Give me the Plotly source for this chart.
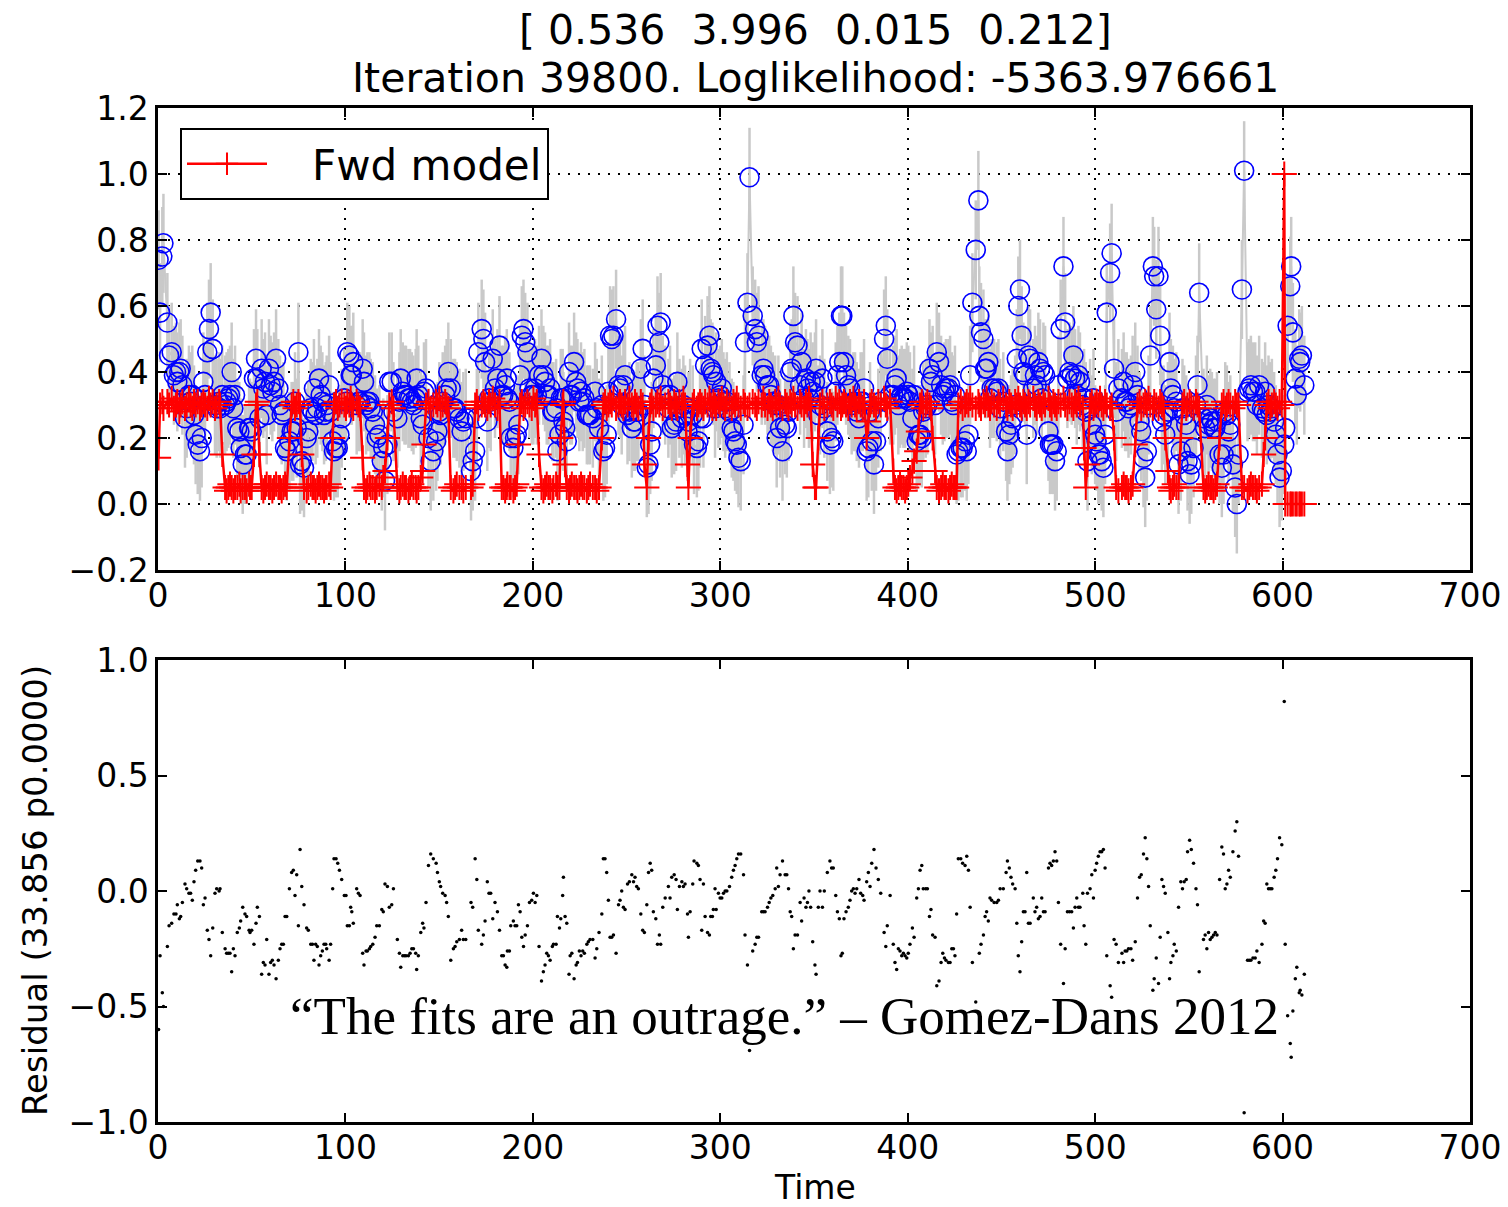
import plotly.graph_objects as go

# ---------------- data ----------------
obs_time = [
    0.3, 1.1, 2.3, 2.9, 5.0, 5.9, 7.3, 8.5, 9.6, 10.3,
    11.4, 12.1, 13.0, 14.4, 15.3, 16.5, 17.4, 18.3, 19.2, 20.1,
    21.2, 22.4, 23.3, 24.2, 25.1, 26.3, 27.2, 28.1, 29.2, 30.4,
    31.3, 32.6, 33.1, 34.3, 35.8, 36.6, 37.5, 38.4, 39.3, 40.2,
    41.1, 42.3, 43.4, 44.1, 45.2, 46.4, 47.3, 48.6, 49.1, 50.0,
    51.2, 52.3, 53.0, 54.1, 55.3, 56.2, 57.1, 58.0, 59.2, 60.1,
    61.0, 61.9, 63.0, 64.2, 65.1, 66.0, 66.9, 67.8, 68.7, 70.1,
    71.3, 72.2, 73.1, 74.0, 74.9, 75.8, 76.7, 77.9, 79.3, 80.2,
    81.5, 82.4, 83.2, 84.1, 85.0, 85.9, 86.8, 87.7, 88.6, 89.5,
    90.0, 91.3, 92.1, 93.2, 93.9, 95.0, 95.9, 96.8, 98.0, 99.4,
    100.3, 101.0, 102.1, 102.8, 103.4, 104.2, 106.0, 106.9, 107.8, 109.2,
    109.9, 111.0, 111.7, 112.8, 113.5, 114.6, 115.8, 116.7, 118.1, 119.4,
    120.2, 121.1, 122.4, 123.4, 124.7, 125.6, 127.7, 128.8, 129.5, 130.6,
    131.5, 132.3, 133.6, 134.5, 135.4, 136.3, 137.5, 138.0, 138.9, 140.2,
    141.2, 141.9, 143.0, 144.3, 145.5, 146.9, 148.4, 149.1, 150.1, 150.8,
    151.9, 153.2, 154.0, 154.9, 156.2, 157.6, 158.5, 159.4, 160.8, 162.0,
    162.9, 164.2, 167.0, 167.9, 169.2, 170.1, 170.9, 172.7, 173.6, 174.5,
    175.7, 176.6, 177.5, 178.6, 179.8, 181.1, 182.2, 183.4, 184.3, 185.2,
    186.1, 186.4, 187.5, 188.2, 189.6, 190.5, 191.4, 192.3, 193.2, 194.1,
    195.0, 195.9, 197.1, 198.2, 199.4, 200.3, 201.2, 202.1, 203.3, 204.6,
    205.6, 206.5, 207.4, 208.3, 209.2, 210.4, 211.0, 212.4, 213.1, 214.2,
    214.9, 215.9, 216.3, 217.2, 218.1, 219.3, 219.9, 220.8, 222.0, 223.1,
    223.8, 224.8, 225.7, 226.6, 227.5, 228.8, 229.6, 230.5, 232.0, 233.2,
    234.1, 235.3, 236.8, 237.6, 238.5, 239.4, 240.3, 241.2, 242.1, 243.0,
    244.4, 245.7, 246.5, 247.4, 248.3, 249.2, 250.5, 251.5, 252.8, 253.7,
    254.5, 255.4, 256.3, 257.6, 258.6, 259.5, 260.8, 261.7, 262.6, 263.4,
    264.3, 265.6, 266.5, 267.5, 268.2, 269.3, 270.6, 272.3, 273.2, 274.1,
    275.4, 276.4, 277.1, 278.2, 279.5, 280.3, 281.2, 282.5, 283.0, 283.9,
    285.3, 286.0, 287.5, 288.3, 289.2, 290.1, 291.0, 291.9, 293.2, 294.2,
    294.9, 295.8, 296.3, 297.2, 297.8, 299.0, 299.9, 300.8, 301.7, 302.6,
    303.5, 304.9, 306.1, 307.0, 307.9, 308.8, 309.7, 310.9, 312.4, 313.2,
    314.5, 315.6, 317.3, 318.6, 319.5, 320.4, 322.1, 323.0, 323.9, 325.2,
    326.1, 327.0, 328.0, 329.3, 330.1, 331.0, 331.9, 333.2, 334.6, 335.5,
    336.4, 337.3, 338.1, 339.0, 339.9, 341.2, 342.6, 343.4, 344.7, 345.7,
    346.5, 347.3, 348.2, 349.3, 350.5, 351.1, 352.3, 353.2, 354.5, 355.5,
    357.1, 358.5, 359.4, 360.3, 361.6, 362.5, 363.5, 364.4, 365.1, 366.0,
    367.1, 368.3, 369.2, 370.1, 371.0, 371.9, 372.8, 374.0, 374.9, 376.0,
    376.7, 378.1, 379.0, 379.9, 380.8, 382.0, 383.1, 384.3, 385.6, 387.4,
    388.3, 389.1, 390.6, 392.3, 393.2, 394.1, 395.0, 395.9, 396.8, 397.7,
    398.6, 399.5, 400.3, 401.2, 402.5, 403.4, 404.8, 405.7, 406.6, 407.5,
    408.3, 409.6, 410.5, 411.6, 412.4, 413.3, 414.6, 415.5, 416.7, 417.8,
    418.7, 419.6, 420.4, 421.7, 422.6, 423.5, 424.4, 425.2, 426.1, 427.0,
    428.3, 429.3, 430.6, 431.5, 432.4, 433.3, 434.5, 436.3, 437.7, 438.2,
    439.1, 440.4, 441.3, 442.1, 443.0, 443.9, 444.8, 446.1, 447.5, 448.4,
    449.3, 451.0, 452.5, 453.2, 454.2, 455.1, 456.0, 457.3, 458.2, 459.0,
    459.9, 460.8, 461.7, 462.6, 463.5, 464.4, 465.3, 467.0, 467.9, 468.8,
    469.7, 470.6, 471.5, 472.4, 473.3, 475.1, 475.9, 476.8, 477.7, 478.6,
    479.5, 480.4, 481.6, 483.1, 484.0, 485.2, 486.3, 487.5, 488.4, 489.3,
    490.2, 491.1, 491.9, 493.4, 494.1, 495.0, 495.9, 497.3, 498.2, 499.1,
    500.0, 500.8, 501.7, 502.6, 503.5, 504.4, 505.3, 506.2, 508.0, 508.8,
    510.1, 511.2, 512.4, 514.3, 515.2, 516.0, 516.9, 517.8, 519.1, 520.0,
    521.4, 522.6, 523.7, 524.6, 525.8, 526.7, 527.6, 528.5, 529.4, 530.8,
    531.5, 532.6, 533.8, 534.7, 535.6, 536.5, 537.4, 538.8, 539.7, 540.4,
    541.5, 542.2, 543.3, 544.5, 545.7, 546.6, 547.5, 548.6, 549.3, 550.4,
    551.3, 552.5, 553.8, 554.6, 555.5, 557.8, 558.7, 559.6, 560.5, 561.4,
    562.3, 563.2, 564.1, 565.0, 566.4, 567.6, 568.5, 569.4, 570.3, 571.2,
    572.1, 573.5, 574.7, 575.6, 576.5, 578.3, 579.5, 581.3, 582.2, 583.1,
    584.2, 585.4, 586.3, 587.5, 589.0, 589.9, 590.7, 591.6, 592.5, 593.4,
    594.3, 595.5, 596.4, 597.3, 598.4, 599.6, 600.9, 601.4, 602.7, 604.1,
    604.6, 605.5, 606.8, 607.6, 608.9, 609.4, 610.3, 611.6,
]

residual = [
    -0.60, -0.28, -0.44, -0.50, -0.24, -0.15, -0.14, -0.10, -0.10, -0.06,
    -0.12, -0.11, -0.05, 0.03, 0.01, -0.01, -0.01, -0.04, 0.04, 0.09,
    0.13, 0.13, 0.10, -0.06, -0.03, -0.17, -0.21, -0.28, -0.16, -0.01,
    0.01, 0.00, 0.01, -0.18, -0.25, -0.27, -0.27, -0.27, -0.35, -0.25,
    -0.28, -0.18, -0.16, -0.13, -0.07, -0.10, -0.11, -0.17, -0.18, -0.17,
    -0.23, -0.14, -0.07, -0.11, -0.36, -0.31, -0.32, -0.21, -0.36, -0.31,
    -0.30, -0.32, -0.38, -0.30, -0.25, -0.23, -0.23, -0.11, -0.11, 0.01,
    0.08, 0.09, -0.02, 0.07, -0.15, 0.18, 0.02, -0.06, -0.16, -0.17,
    -0.23, -0.23, -0.30, -0.23, -0.24, -0.32, -0.28, -0.26, -0.23, -0.23,
    -0.25, -0.30, -0.23, 0.01, 0.14, 0.14, 0.12, 0.09, 0.05, -0.02,
    -0.02, -0.15, -0.15, -0.07, -0.09, -0.14, 0.01, -0.01, -0.02, -0.27,
    -0.32, -0.26, -0.26, -0.25, -0.24, -0.23, -0.20, -0.15, -0.15, -0.08,
    -0.09, 0.03, 0.02, -0.07, -0.06, 0.01, -0.21, -0.27, -0.33, -0.28,
    -0.28, -0.28, -0.28, -0.27, -0.25, -0.25, -0.27, -0.34, -0.28, -0.18,
    -0.14, -0.16, -0.05, 0.11, 0.16, 0.14, 0.12, 0.08, 0.04, 0.02,
    -0.01, -0.02, -0.05, -0.11, -0.30, -0.25, -0.24, -0.22, -0.21, -0.17,
    -0.21, -0.21, -0.05, -0.07, 0.14, 0.05, -0.17, -0.23, -0.19, -0.13,
    0.04, -0.01, -0.01, -0.12, -0.05, -0.09, -0.17, -0.28, -0.28, -0.32,
    -0.33, -0.26, -0.26, -0.15, -0.13, -0.15, -0.15, -0.06, -0.09, -0.20,
    -0.24, -0.19, -0.15, -0.05, -0.04, -0.01, -0.05, -0.02, -0.24, -0.39,
    -0.35, -0.32, -0.27, -0.28, -0.30, -0.24, -0.23, -0.23, -0.11, -0.16,
    -0.12, -0.02, 0.06, -0.11, -0.14, -0.36, -0.28, -0.27, -0.38, -0.32,
    -0.31, -0.26, -0.28, -0.26, -0.27, -0.23, -0.22, -0.21, -0.21, -0.29,
    -0.25, -0.18, -0.10, 0.14, 0.14, 0.08, -0.04, -0.20, -0.20, -0.19,
    -0.27, -0.06, -0.04, 0.00, -0.07, -0.08, 0.03, 0.04, 0.07, 0.04,
    0.06, 0.02, 0.01, -0.10, -0.17, -0.18, -0.06, 0.08, 0.12, 0.09,
    -0.09, -0.12, -0.23, -0.19, -0.23, -0.07, -0.03, 0.02, -0.03, 0.06,
    0.07, 0.05, -0.08, 0.02, 0.04, 0.02, 0.03, -0.10, -0.20, -0.09,
    0.03, 0.13, 0.12, 0.11, 0.05, -0.17, 0.03, -0.11, -0.18, -0.19,
    -0.11, -0.11, -0.08, 0.01, -0.08, -0.01, -0.03, -0.03, -0.01, 0.00,
    0.00, 0.02, 0.06, 0.09, 0.11, 0.14, 0.16, 0.16, 0.07, -0.19,
    -0.32, -0.69, -0.26, -0.23, -0.20, -0.20, -0.09, -0.09, -0.09, -0.07,
    -0.05, -0.03, -0.02, 0.01, 0.10, 0.02, 0.07, 0.13, 0.07, 0.07,
    0.01, -0.09, -0.11, -0.25, -0.19, -0.19, -0.05, -0.13, -0.03, -0.07,
    -0.05, 0.00, -0.07, -0.22, -0.32, -0.36, -0.07, 0.00, -0.07, 0.00,
    0.08, 0.13, 0.10, 0.10, -0.02, -0.09, -0.12, -0.28, -0.27, -0.12,
    -0.09, -0.07, -0.04, 0.00, 0.01, -0.01, 0.01, 0.05, -0.01, -0.02,
    -0.04, 0.04, 0.08, 0.02, 0.12, 0.18, 0.10, 0.05, -0.01, -0.18,
    -0.24, -0.15, -0.02, -0.23, -0.31, -0.34, -0.25, -0.26, -0.28, -0.27,
    -0.28, -0.29, -0.27, -0.23, -0.16, -0.20, -0.03, 0.01, 0.09, 0.11,
    0.01, 0.01, 0.01, -0.11, -0.08, -0.19, -0.20, -0.41, -0.39, -0.31,
    -0.27, -0.29, -0.30, -0.31, -0.31, -0.25, -0.25, -0.28, -0.10, 0.14,
    0.14, 0.12, 0.11, 0.15, 0.09, -0.07, -0.31, -0.48, -0.61, -0.27,
    -0.23, -0.19, -0.11, -0.09, -0.13, -0.03, -0.04, -0.05, -0.05, -0.04,
    0.01, 0.01, 0.08, 0.13, 0.10, 0.06, 0.03, 0.01, -0.14, -0.28,
    -0.35, -0.22, -0.09, -0.09, 0.08, -0.14, -0.14, -0.03, -0.09, -0.07,
    -0.12, -0.11, -0.03, -0.09, -0.09, 0.10, 0.12, 0.11, 0.13, 0.17,
    0.13, -0.05, -0.23, -0.40, -0.25, -0.09, -0.09, -0.09, -0.16, -0.07,
    -0.03, -0.07, -0.07, -0.01, -0.15, -0.23, -0.01, 0.01, 0.07, -0.03,
    0.09, 0.12, 0.15, 0.17, 0.17, 0.18, 0.10, -0.28, -0.41, -0.46,
    -0.21, -0.23, -0.31, -0.27, -0.31, -0.26, -0.26, -0.25, -0.25, -0.30,
    -0.22, -0.03, 0.06, 0.07, 0.16, 0.23, 0.14, 0.02, -0.15, -0.43,
    -0.38, -0.29, -0.40, -0.20, 0.05, 0.02, -0.01, -0.18, -0.38, -0.31,
    -0.28, -0.23, -0.26, -0.07, 0.04, 0.01, 0.04, 0.05, 0.17, 0.22,
    0.18, 0.12, 0.01, -0.06, -0.35, -0.21, -0.19, -0.25, -0.18, -0.21,
    -0.20, -0.19, -0.18, -0.19, 0.05, 0.19, 0.16, 0.01, 0.03, 0.09,
    0.06, 0.17, 0.26, 0.30, 0.15, -0.60, -0.96, -0.30, -0.30, -0.30,
    -0.29, -0.29, -0.26, -0.31, -0.23, -0.13, -0.14, 0.03, 0.01, 0.01,
    0.01, 0.06, 0.09, 0.14, 0.23, 0.20, 0.82, -0.23, -0.54, -0.66,
    -0.72, -0.52, -0.38, -0.33, -0.44, -0.43, -0.45, -0.36,
]

model = [
    0.14, 0.30, 0.31, 0.29, 0.31, 0.30, 0.32, 0.29, 0.30, 0.31,
    0.28, 0.30, 0.31, 0.29, 0.30, 0.32, 0.30, 0.29, 0.31, 0.30,
    0.31, 0.29, 0.30, 0.31, 0.30, 0.29, 0.32, 0.30, 0.31, 0.29,
    0.30, 0.31, 0.30, 0.15, 0.05, 0.04, 0.05, 0.06, 0.05, 0.04,
    0.05, 0.05, 0.06, 0.04, 0.05, 0.05, 0.04, 0.06, 0.05, 0.05,
    0.15, 0.30, 0.31, 0.15, 0.05, 0.04, 0.05, 0.06, 0.05, 0.05,
    0.04, 0.05, 0.06, 0.05, 0.05, 0.04, 0.05, 0.06, 0.05, 0.20,
    0.30, 0.31, 0.29, 0.30, 0.31, 0.30, 0.15, 0.05, 0.04, 0.05,
    0.06, 0.05, 0.05, 0.04, 0.05, 0.06, 0.05, 0.05, 0.04, 0.05,
    0.05, 0.06, 0.05, 0.20, 0.30, 0.31, 0.29, 0.30, 0.31, 0.30,
    0.29, 0.31, 0.30, 0.32, 0.30, 0.29, 0.31, 0.30, 0.29, 0.14,
    0.05, 0.04, 0.05, 0.06, 0.05, 0.05, 0.04, 0.05, 0.06, 0.05,
    0.08, 0.10, 0.20, 0.30, 0.31, 0.29, 0.05, 0.04, 0.05, 0.06,
    0.05, 0.05, 0.04, 0.05, 0.06, 0.05, 0.05, 0.04, 0.05, 0.08,
    0.10, 0.18, 0.30, 0.31, 0.29, 0.30, 0.31, 0.30, 0.32, 0.29,
    0.30, 0.31, 0.30, 0.29, 0.05, 0.04, 0.05, 0.06, 0.05, 0.05,
    0.04, 0.05, 0.05, 0.06, 0.30, 0.31, 0.29, 0.30, 0.31, 0.30,
    0.29, 0.31, 0.30, 0.32, 0.30, 0.29, 0.31, 0.05, 0.05, 0.04,
    0.05, 0.06, 0.05, 0.05, 0.04, 0.05, 0.06, 0.18, 0.30, 0.31,
    0.29, 0.30, 0.31, 0.30, 0.29, 0.32, 0.30, 0.31, 0.15, 0.05,
    0.04, 0.05, 0.06, 0.05, 0.05, 0.04, 0.05, 0.06, 0.05, 0.05,
    0.20, 0.30, 0.31, 0.12, 0.05, 0.04, 0.05, 0.06, 0.05, 0.05,
    0.04, 0.05, 0.06, 0.05, 0.05, 0.04, 0.05, 0.06, 0.05, 0.05,
    0.04, 0.05, 0.20, 0.30, 0.31, 0.29, 0.30, 0.31, 0.30, 0.32,
    0.29, 0.30, 0.31, 0.30, 0.29, 0.31, 0.30, 0.32, 0.30, 0.29,
    0.31, 0.30, 0.29, 0.31, 0.30, 0.12, 0.05, 0.20, 0.30, 0.31,
    0.29, 0.30, 0.31, 0.30, 0.32, 0.29, 0.30, 0.31, 0.30, 0.29,
    0.31, 0.30, 0.29, 0.31, 0.30, 0.32, 0.30, 0.12, 0.05, 0.20,
    0.30, 0.31, 0.29, 0.30, 0.31, 0.30, 0.29, 0.31, 0.30, 0.32,
    0.30, 0.29, 0.31, 0.30, 0.29, 0.31, 0.30, 0.32, 0.30, 0.29,
    0.31, 0.30, 0.29, 0.31, 0.30, 0.32, 0.30, 0.29, 0.31, 0.30,
    0.29, 0.30, 0.31, 0.30, 0.29, 0.31, 0.30, 0.32, 0.30, 0.29,
    0.31, 0.30, 0.29, 0.31, 0.30, 0.32, 0.30, 0.29, 0.31, 0.30,
    0.29, 0.31, 0.30, 0.32, 0.30, 0.29, 0.31, 0.30, 0.29, 0.31,
    0.30, 0.32, 0.30, 0.12, 0.05, 0.05, 0.20, 0.30, 0.31, 0.29,
    0.30, 0.31, 0.30, 0.29, 0.32, 0.30, 0.31, 0.29, 0.30, 0.31,
    0.30, 0.29, 0.31, 0.30, 0.32, 0.30, 0.29, 0.31, 0.30, 0.29,
    0.31, 0.20, 0.25, 0.30, 0.31, 0.30, 0.29, 0.31, 0.30, 0.32,
    0.30, 0.29, 0.31, 0.10, 0.05, 0.04, 0.05, 0.06, 0.05, 0.05,
    0.04, 0.05, 0.06, 0.08, 0.10, 0.13, 0.16, 0.22, 0.30, 0.31,
    0.29, 0.30, 0.31, 0.30, 0.29, 0.20, 0.10, 0.05, 0.04, 0.05,
    0.06, 0.05, 0.05, 0.04, 0.05, 0.06, 0.05, 0.05, 0.05, 0.30,
    0.31, 0.29, 0.30, 0.31, 0.30, 0.32, 0.30, 0.29, 0.31, 0.30,
    0.29, 0.31, 0.30, 0.32, 0.30, 0.29, 0.31, 0.30, 0.29, 0.31,
    0.30, 0.32, 0.30, 0.29, 0.31, 0.30, 0.29, 0.31, 0.30, 0.32,
    0.30, 0.29, 0.31, 0.30, 0.29, 0.31, 0.30, 0.32, 0.30, 0.29,
    0.31, 0.30, 0.29, 0.31, 0.30, 0.32, 0.30, 0.29, 0.31, 0.30,
    0.29, 0.31, 0.30, 0.32, 0.30, 0.29, 0.31, 0.30, 0.29, 0.31,
    0.30, 0.32, 0.30, 0.29, 0.17, 0.05, 0.12, 0.30, 0.31, 0.29,
    0.30, 0.31, 0.30, 0.32, 0.30, 0.29, 0.31, 0.30, 0.29, 0.30,
    0.20, 0.05, 0.04, 0.05, 0.06, 0.05, 0.05, 0.04, 0.05, 0.06,
    0.18, 0.30, 0.31, 0.29, 0.30, 0.31, 0.30, 0.32, 0.30, 0.29,
    0.31, 0.30, 0.29, 0.31, 0.30, 0.29, 0.20, 0.10, 0.05, 0.04,
    0.05, 0.06, 0.05, 0.05, 0.20, 0.30, 0.31, 0.29, 0.30, 0.31,
    0.30, 0.29, 0.31, 0.30, 0.29, 0.05, 0.04, 0.05, 0.06, 0.05,
    0.05, 0.04, 0.05, 0.06, 0.20, 0.30, 0.31, 0.29, 0.30, 0.31,
    0.30, 0.29, 0.31, 0.30, 0.30, 0.05, 0.05, 0.04, 0.05, 0.06,
    0.05, 0.05, 0.04, 0.05, 0.06, 0.15, 0.20, 0.30, 0.31, 0.29,
    0.30, 0.31, 0.30, 0.29, 0.31, 0.30, 1.00, 0.00, 0.00, 0.00,
    0.00, 0.00, 0.00, 0.00, 0.00, 0.00, 0.00, 0.00,
]

# observation = model - residual
obs = [round(m - r, 3) for m, r in zip(model, residual)]

title_params = "[ 0.536  3.996  0.015  0.212]"
title_iter = "Iteration 39800. Loglikelihood: -5363.976661"
legend_name = "Fwd model"
y2_label = "Residual (33.856 p0.0000)"
x_label = "Time"
quote = "\u201cThe fits are an outrage.\u201d \u2013 Gomez-Dans 2012"

# ---------------- layout geometry ----------------
W, H = 1508, 1207
ML, MR, MT, MB = 158, 38, 108, 85
PW, PH = W - ML - MR, H - MT - MB


def pxx(x):
    return (x - ML) / PW


def pyy(y):
    return (H - MB - y) / PH


fig = go.Figure()

# grey observation line with error bars
fig.add_trace(go.Scatter(
    x=obs_time, y=obs, mode="lines",
    line=dict(color="#c9c9c9", width=2),
    error_y=dict(type="constant", value=0.15, color="#c9c9c9", thickness=2.5, width=0),
    showlegend=False, hoverinfo="skip", xaxis="x", yaxis="y"))

# blue open circles
fig.add_trace(go.Scatter(
    x=obs_time, y=obs, mode="markers",
    marker=dict(symbol="circle-open", size=19, color="#0000ff",
                line=dict(width=1.6, color="#0000ff")),
    showlegend=False, xaxis="x", yaxis="y"))

# forward model
fig.add_trace(go.Scatter(
    x=obs_time, y=model, mode="lines+markers",
    name="\u00a0\u00a0\u00a0" + legend_name,
    line=dict(color="#ff0000", width=2.5),
    marker=dict(symbol="cross-thin", size=18, color="#ff0000",
                line=dict(width=2, color="#ff0000")),
    xaxis="x", yaxis="y"))

# residuals
fig.add_trace(go.Scatter(
    x=obs_time, y=residual, mode="markers",
    marker=dict(size=3.5, color="black"),
    showlegend=False, xaxis="x2", yaxis="y2"))

tickfont = dict(family="DejaVu Sans", size=33, color="black")
common = dict(showline=True, linecolor="black", linewidth=2.5, mirror="ticks",
              ticks="inside", ticklen=9, tickwidth=1.5, tickcolor="black",
              tickfont=tickfont, zeroline=False, automargin=False,
              ticklabeloverflow="allow")
grid = dict(showgrid=True, gridcolor="black", gridwidth=1.5, griddash="2px,8px")

fig.update_layout(
    width=W, height=H,
    margin=dict(l=ML, r=MR, t=MT, b=MB, autoexpand=False),
    paper_bgcolor="white", plot_bgcolor="white",
    xaxis=dict(domain=[0, 1], range=[0, 700], tick0=0, dtick=100, anchor="y",
               ticklabelstandoff=-5, **grid, **common),
    yaxis=dict(domain=[pyy(570), 1], range=[-0.2, 1.2], tick0=0, dtick=0.2,
               tickformat=".1f", anchor="x", **grid, **common),
    xaxis2=dict(domain=[0, 1], range=[0, 700], tick0=0, dtick=100, anchor="y2",
                ticklabelstandoff=-5, showgrid=False, **common),
    yaxis2=dict(domain=[0, pyy(660)], range=[-1, 1], tick0=0, dtick=0.5,
                tickformat=".1f", anchor="x2", showgrid=False, **common),
    legend=dict(x=pxx(180), y=pyy(128), xanchor="left", yanchor="top",
                bordercolor="black", borderwidth=2, bgcolor="white",
                font=dict(family="DejaVu Sans", size=42, color="black"),
                itemwidth=80),
    showlegend=True,
)

ann = [
    dict(text=title_params.replace(" ", "\u00a0"), x=pxx(815), y=pyy(30)),
    dict(text=title_iter, x=pxx(815), y=pyy(78)),
]
for a in ann:
    fig.add_annotation(text=a["text"], x=a["x"], y=a["y"], xref="paper", yref="paper",
                       showarrow=False, xanchor="center", yanchor="middle",
                       font=dict(family="DejaVu Sans", size=41, color="black"))

fig.add_annotation(text=x_label, x=pxx(815), y=pyy(1187), xref="paper", yref="paper",
                   showarrow=False, xanchor="center", yanchor="middle",
                   font=dict(family="DejaVu Sans", size=33, color="black"))
fig.add_annotation(text=y2_label, x=pxx(35), y=pyy(891), xref="paper", yref="paper",
                   showarrow=False, xanchor="center", yanchor="middle", textangle=-90,
                   font=dict(family="DejaVu Sans", size=34, color="black"))
fig.add_annotation(text=quote, x=pxx(784), y=pyy(1016), xref="paper", yref="paper",
                   showarrow=False, xanchor="center", yanchor="middle",
                   font=dict(family="Liberation Serif", size=53, color="black"))

fig.write_html("out.html",
               config={"displayModeBar": False},
               post_script="document.body.style.margin='0px';"
                           "document.body.style.overflow='hidden';")
